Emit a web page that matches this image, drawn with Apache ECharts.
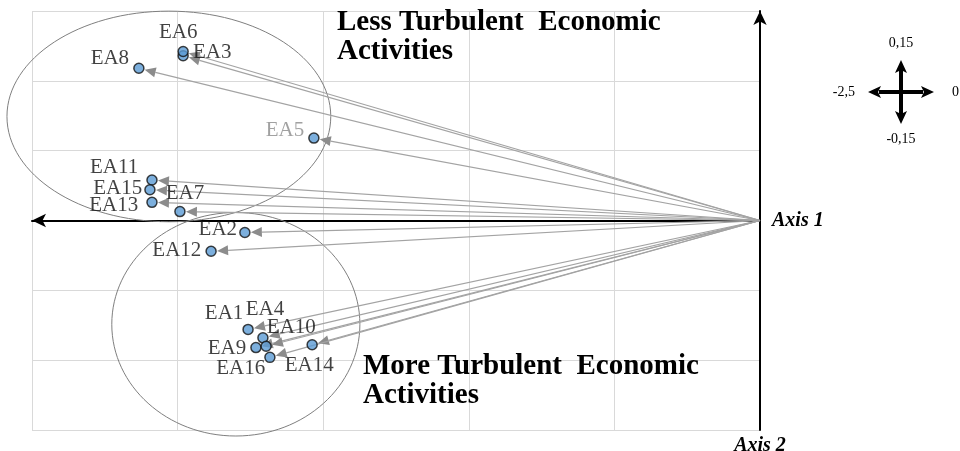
<!DOCTYPE html>
<html>
<head>
<meta charset="utf-8">
<script src="https://cdn.jsdelivr.net/npm/echarts@6/dist/echarts.min.js"></script>
<style>
html, body { margin: 0; padding: 0; background: #fff; }
#chart { width: 960px; height: 451px; }
</style>
</head>
<body>
<div id="chart"></div>
<script>
// activity coordinates on the two factorial axes
const names = ['EA1', 'EA2', 'EA3', 'EA4', 'EA5', 'EA6', 'EA7', 'EA8',
  'EA9', 'EA10', 'EA11', 'EA12', 'EA13', 'EA14', 'EA15', 'EA16'];
const axis1 = [-1.758, -1.769, -1.981, -1.707, -1.532, -1.981, -1.992, -2.133,
  -1.731, -1.696, -2.088, -1.885, -2.088, -1.538, -2.095, -1.683];
const axis2 = [-0.078, -0.0086, 0.118, -0.084, 0.059, 0.121, 0.0064, 0.109,
  -0.091, -0.090, 0.029, -0.022, 0.013, -0.089, 0.022, -0.098];

// grouping ellipses (data units)
const ellipses = [
  { cx: -2.03, cy: 0.0745, rx: 0.556, ry: 0.0754 },
  { cx: -1.80, cy: -0.0743, rx: 0.426, ry: 0.080 }
];

const serif = '"Liberation Serif", "Times New Roman", serif';

// where each label sits next to its point
const labelPos = {
  EA1: ['left', [5, -16]],
  EA2: ['left', [2, -3]],
  EA3: ['right', [0, -3]],
  EA4: ['top', [2, -8]],
  EA5: ['left', [0, -8]],
  EA6: ['top', [-5, 1]],
  EA7: ['top', [5, 2]],
  EA8: ['left', [0, -10]],
  EA9: ['left', [0, 1]],
  EA10: ['right', [-9, -19]],
  EA11: ['left', [-4, -13]],
  EA12: ['left', [0, -1]],
  EA13: ['left', [-4, 3]],
  EA14: ['bottom', [-3, 0]],
  EA15: ['left', [2, -1]],
  EA16: ['left', [5, 11]]
};

const points = names.map((n, i) => ({
  name: n,
  value: [axis1[i], axis2[i]],
  label: {
    position: labelPos[n][0],
    offset: labelPos[n][1],
    color: n === 'EA5' ? '#8a8a8a' : '#111'
  }
}));

const chart = echarts.init(document.getElementById('chart'));

const axisNameStyle = {
  fontFamily: serif, fontSize: 20, fontWeight: 'bold', fontStyle: 'italic', color: '#000'
};

chart.setOption({
  animation: false,
  backgroundColor: '#fff',
  grid: { left: 32, right: 200, top: 11, bottom: 21, outerBoundsMode: 'none' },
  xAxis: {
    type: 'value',
    min: -2.5,
    max: 0,
    interval: 0.5,
    name: 'Axis 1',
    nameLocation: 'end',
    nameGap: 12,
    nameTextStyle: Object.assign({ padding: [0, 0, 6, 0] }, axisNameStyle),
    axisLine: {
      onZero: true,
      symbol: ['arrow', 'none'],
      symbolSize: [10, 14],
      lineStyle: { color: '#000', width: 2 }
    },
    axisTick: { show: false },
    axisLabel: { show: false },
    splitLine: { lineStyle: { color: '#d9d9d9' } }
  },
  yAxis: {
    type: 'value',
    min: -0.15,
    max: 0.15,
    interval: 0.05,
    name: 'Axis 2',
    nameLocation: 'start',
    nameGap: 6,
    nameTextStyle: axisNameStyle,
    axisLine: {
      onZero: true,
      symbol: ['none', 'arrow'],
      symbolSize: [10, 14],
      lineStyle: { color: '#000', width: 2 }
    },
    axisTick: { show: false },
    axisLabel: { show: false },
    splitLine: { lineStyle: { color: '#d9d9d9' } }
  },
  series: [
    {
      // arrows from origin to every activity
      type: 'custom',
      z: 2,
      clip: false,
      data: names.map((n, i) => [axis1[i], axis2[i]]),
      renderItem(params, api) {
        const o = api.coord([0, 0]);
        const p = api.coord([api.value(0), api.value(1)]);
        const dx = o[0] - p[0], dy = o[1] - p[1];
        const len = Math.hypot(dx, dy);
        const ux = dx / len, uy = dy / len;
        const tip = [p[0] + ux * 6, p[1] + uy * 6];
        const base = [tip[0] + ux * 11, tip[1] + uy * 11];
        const nx = -uy, ny = ux;
        return {
          type: 'group',
          children: [
            {
              type: 'line',
              shape: { x1: o[0], y1: o[1], x2: base[0], y2: base[1] },
              style: { stroke: '#a3a3a3', lineWidth: 1.2 }
            },
            {
              type: 'polygon',
              shape: { points: [tip, [base[0] + nx * 5, base[1] + ny * 5], [base[0] - nx * 5, base[1] - ny * 5]] },
              style: { fill: '#8c8c8c' }
            }
          ]
        };
      }
    },
    {
      type: 'scatter',
      z: 3,
      symbolSize: 10,
      data: points,
      itemStyle: { color: '#5b9bd5', borderColor: '#111', borderWidth: 1.5 },
      label: {
        show: true,
        formatter: '{b}',
        fontFamily: serif,
        fontSize: 21,
        distance: 4
      }
    }
  ]
});

// ellipses and annotations placed from data coordinates
const ellGraphics = ellipses.map(e => {
  const c = chart.convertToPixel({ gridIndex: 0 }, [e.cx, e.cy]);
  const r = chart.convertToPixel({ gridIndex: 0 }, [e.cx + e.rx, e.cy + e.ry]);
  return {
    type: 'ellipse',
    z: 1,
    shape: { cx: c[0], cy: c[1], rx: Math.abs(r[0] - c[0]), ry: Math.abs(r[1] - c[1]) },
    style: { fill: 'none', stroke: '#7f7f7f', lineWidth: 1 }
  };
});

const titleStyle = { fontFamily: serif, fontSize: 29, fontWeight: 'bold', fill: '#000', lineHeight: 29 };
const smallText = { fontFamily: serif, fontSize: 14, fill: '#000' };

chart.setOption({
  graphic: ellGraphics.concat([
    { type: 'text', left: 337, top: 8, z: 5, style: Object.assign({ text: 'Less Turbulent  Economic\nActivities' }, titleStyle) },
    { type: 'text', left: 363, top: 352, z: 5, style: Object.assign({ text: 'More Turbulent  Economic\nActivities' }, titleStyle) },
    {
      type: 'group',
      x: 901,
      y: 92,
      children: [
        { type: 'line', shape: { x1: 0, y1: -22, x2: 0, y2: 22 }, style: { stroke: '#000', lineWidth: 4 } },
        { type: 'line', shape: { x1: -22, y1: 0, x2: 22, y2: 0 }, style: { stroke: '#000', lineWidth: 4 } },
        { type: 'polygon', shape: { points: [[0, -32], [-6, -19], [0, -22], [6, -19]] }, style: { fill: '#000' } },
        { type: 'polygon', shape: { points: [[0, 32], [-6, 19], [0, 22], [6, 19]] }, style: { fill: '#000' } },
        { type: 'polygon', shape: { points: [[-33, 0], [-20, -6], [-23, 0], [-20, 6]] }, style: { fill: '#000' } },
        { type: 'polygon', shape: { points: [[33, 0], [20, -6], [23, 0], [20, 6]] }, style: { fill: '#000' } },
        { type: 'text', x: 0, y: -49, style: Object.assign({ text: '0,15', align: 'center', verticalAlign: 'middle' }, smallText) },
        { type: 'text', x: 0, y: 47, style: Object.assign({ text: '-0,15', align: 'center', verticalAlign: 'middle' }, smallText) },
        { type: 'text', x: -46, y: 0, style: Object.assign({ text: '-2,5', align: 'right', verticalAlign: 'middle' }, smallText) },
        { type: 'text', x: 51, y: 0, style: Object.assign({ text: '0', align: 'left', verticalAlign: 'middle' }, smallText) }
      ]
    }
  ])
});
</script>
</body>
</html>
